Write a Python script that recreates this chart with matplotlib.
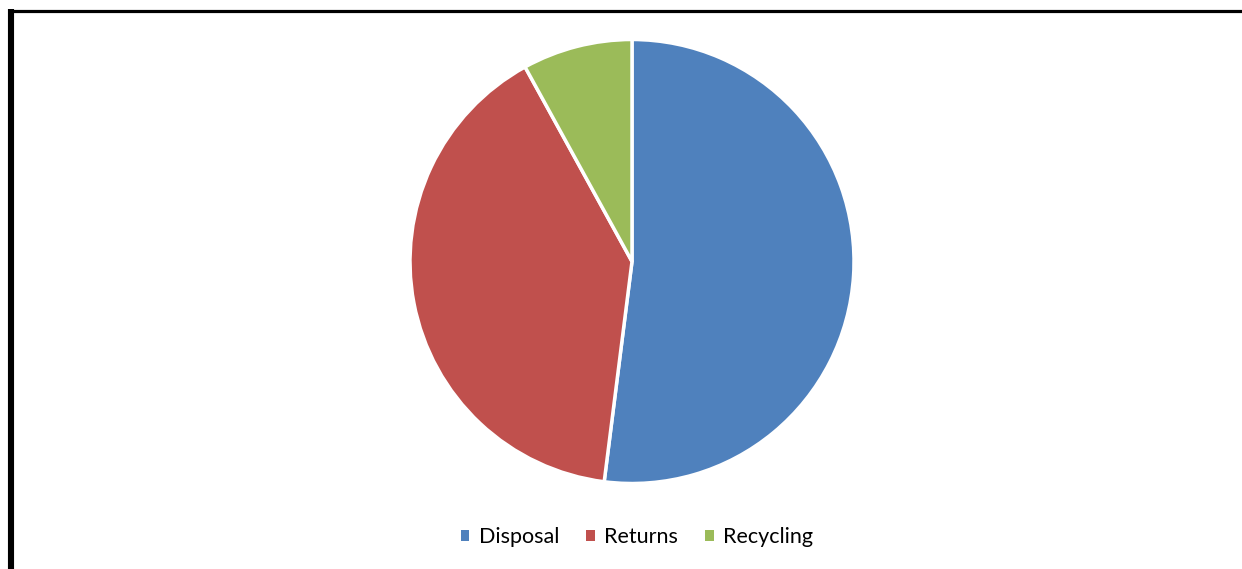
import matplotlib.pyplot as plt
from matplotlib.patches import Patch
from matplotlib.lines import Line2D

labels = ['Disposal', 'Returns', 'Recycling']
shares = [52, 40, 8]
colors = ['#4F81BD', '#C0504D', '#9BBB59']

W, H = 1242, 569
fig = plt.figure(figsize=(W / 100, H / 100), dpi=100)

# axes in pixel units so the pie lands where the reference puts it
ax = fig.add_axes([0, 0, 1, 1])
ax.pie(shares, colors=colors, startangle=90, counterclock=False,
       center=(632, H - 261.5), radius=222,
       wedgeprops={'edgecolor': 'white', 'linewidth': 2.5})
ax.set_xlim(0, W)
ax.set_ylim(0, H)
ax.set_aspect('equal')
ax.axis('off')

# black frame (left and top visible)
fig.add_artist(Line2D([11 / W, 11 / W], [0, 1 - 9 / H], color='black',
                      linewidth=4.4, solid_capstyle='butt', transform=fig.transFigure))
fig.add_artist(Line2D([8 / W, 1], [1 - 10.5 / H, 1 - 10.5 / H], color='black',
                      linewidth=2.3, solid_capstyle='butt', transform=fig.transFigure))

handles = [Patch(facecolor=c, edgecolor='none') for c in colors]
fig.legend(handles, labels, loc='center', bbox_to_anchor=(637 / W, 1 - 537 / H),
           ncol=3, frameon=False, prop={'family': 'Lato', 'size': 15.5},
           handlelength=0.4, handleheight=0.4, handletextpad=0.45, columnspacing=1.25)

plt.savefig('out.png', dpi=100)
